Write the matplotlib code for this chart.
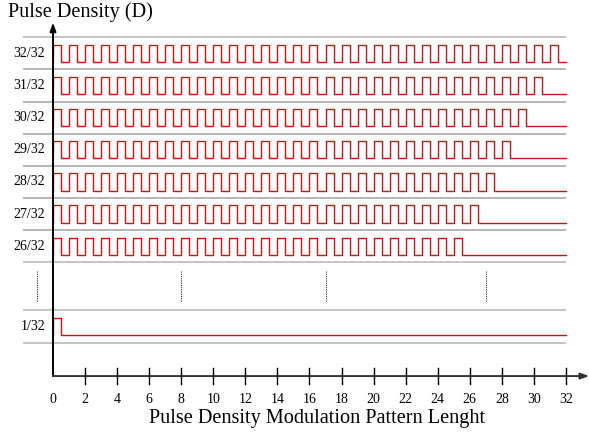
import matplotlib
matplotlib.use("Agg")
import matplotlib.pyplot as plt
import numpy as np

# ---- data ----
densities = [32, 31, 30, 29, 28, 27, 26, 1]
row_labels = [f"{d}/32" for d in densities]
pattern_length = 32
x_ticks = list(range(0, 33, 2))
x_title = "Pulse Density Modulation Pattern Lenght"
y_title = "Pulse Density (D)"

# ---- layout (row centres in row units, top to bottom) ----
row_centres = [0.5, 1.5, 2.5, 3.5, 4.5, 5.5, 6.5, 9.0]
amp = 0.27
x_axis_y = 10.54
dot_x = [-1.02, 8, 17, 27]

plt.rcParams['font.family'] = ['Liberation Serif', 'DejaVu Serif']
fig = plt.figure(figsize=(5.89, 4.34), dpi=100)
ax = fig.add_axes([0, 0, 1, 1])
ax.set_xlim(-53 / 16.03, (589 - 53) / 16.03)
ax.set_ylim((434 - 37.3) / 32.14, -37.3 / 32.14)
ax.axis('off')

red = '#cc1111'
grid_c = '#b4b4b4'
axis_c = '#333333'

for d, lab, yc in zip(densities, row_labels, row_centres):
    # grid lines bounding the row
    for yb in (yc - 0.5, yc + 0.5):
        ax.plot([-1.9, 32], [yb, yb], color=grid_c, lw=1.1, zorder=1, solid_capstyle='butt')
    hi, lo = yc - amp, yc + amp
    xs, ys = [0], [lo]
    for k in range(d):
        xs += [k, k + 0.5, k + 0.5, k + 1]
        ys += [hi, hi, lo, lo]
    xs.append(pattern_length)
    ys.append(lo)
    ax.plot(xs, ys, color=red, lw=1.0, zorder=3)
    ax.text(-0.5, yc, lab, ha='right', va='center', fontsize=10)

# dotted ellipsis lines
for dx in dot_x:
    ax.plot([dx, dx], [7.26, 8.19], color=axis_c, lw=0.8, ls=(0, (1, 1)), zorder=2)

# axes with arrows
ax.annotate('', xy=(0, -0.46), xytext=(0, x_axis_y),
            arrowprops=dict(arrowstyle='-|>,head_length=0.5,head_width=0.18',
                            lw=1.4, color='black', shrinkA=0, shrinkB=0), zorder=4)
ax.annotate('', xy=(33.45, x_axis_y), xytext=(0, x_axis_y),
            arrowprops=dict(arrowstyle='-|>,head_length=0.5,head_width=0.18',
                            lw=1.4, color=axis_c, shrinkA=0, shrinkB=0), zorder=4)

for t in x_ticks:
    if t > 0:
        ax.plot([t, t], [x_axis_y - 0.24, x_axis_y + 0.24], color='black', lw=1.0, zorder=4)
    ax.text(t, 11.26, str(t), ha='center', va='center', fontsize=10)

ax.text(16.45, 11.85, x_title, ha='center', va='center', fontsize=14.6)
ax.text(-2.81, -0.79, y_title, ha='left', va='center', fontsize=14.6)

fig.savefig('out.png', dpi=100)
